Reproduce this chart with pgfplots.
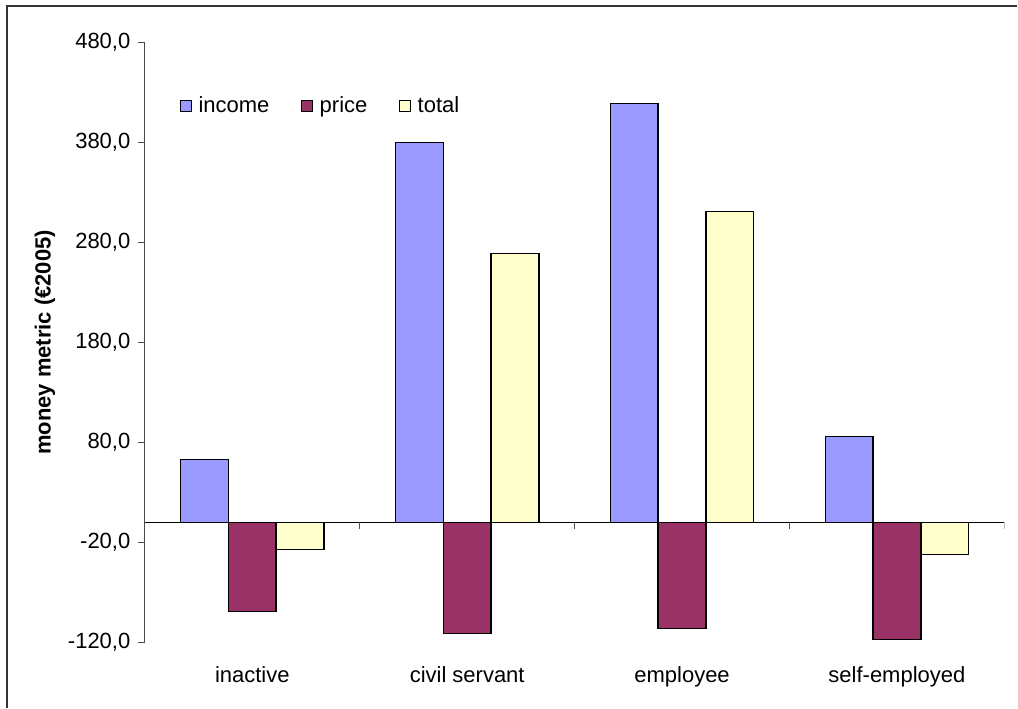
\documentclass[border=0pt]{standalone}
\usepackage{pgfplots}
\pgfplotsset{compat=1.18}
\usepackage{fontspec}
\setmainfont{Liberation Sans}
\definecolor{cinc}{RGB}{153,153,255}
\definecolor{cpri}{RGB}{153,51,102}
\definecolor{ctot}{RGB}{255,255,204}
\begin{document}
\begin{tikzpicture}
\fontsize{16.5bp}{19bp}\selectfont
\path (0,0) rectangle (763.5bp,531bp);
\draw[line width=1bp, black!80] (5.25bp,0) -- (5.25bp,526.5bp) -- (763.5bp,526.5bp);
\begin{axis}[
  at={(108.75bp,49bp)}, anchor=south west,
  scale only axis, width=645bp, height=450bp,
  xmin=-0.5, xmax=3.5, ymin=-120, ymax=480,
  axis y line*=left, axis x line*=bottom,
  x axis line style={draw=none},
  y axis line style={black!70, line width=0.8bp},
  xtick={0,1,2,3},
  xticklabels={inactive,civil servant,employee,self-employed},
  x tick style={draw=none},
  xticklabel style={yshift=-7.5bp},
  ytick={-120,-20,...,480},
  yticklabel={\pgfmathprintnumber[fixed,fixed zerofill,precision=1,use comma]{\tick}},
  /pgf/number format/assume math mode=true,
  tick label style={font=\fontsize{16.5bp}{19bp}\selectfont},
  y tick style={black!70, line width=0.8bp},
  tick align=outside, major tick length=5.25bp,
  ylabel={money metric (€2005)},
  ylabel style={at={(axis description cs:-0.1163,0.5)}, anchor=center, font=\fontsize{16.5bp}{19bp}\selectfont\bfseries},
  legend columns=3,
  legend style={at={(axis description cs:0.0407,0.8945)}, anchor=west, draw=none, fill=none, inner sep=0pt,
    font=\fontsize{16.5bp}{19bp}\selectfont,
    /tikz/every odd column/.append style={column sep=3bp},
    /tikz/every even column/.append style={column sep=22bp}},
  legend image code/.code={\draw[#1, line width=0.8bp] (0bp,-4bp) rectangle (8bp,4bp);},
]
\addplot[ybar, bar width=0.2222, bar shift=-0.2222, fill=cinc, draw=black, line width=1.1bp]
  coordinates {(0,63) (1,380) (2,419) (3,86)};
\addlegendentry{income}
\addplot[ybar, bar width=0.2222, bar shift=0, fill=cpri, draw=black, line width=1.1bp]
  coordinates {(0,-89) (1,-111) (2,-106) (3,-117)};
\addlegendentry{price}
\addplot[ybar, bar width=0.2222, bar shift=0.2222, fill=ctot, draw=black, line width=1.1bp]
  coordinates {(0,-27) (1,269) (2,311) (3,-32)};
\addlegendentry{total}
\draw[black, line width=0.9bp] (axis cs:-0.5,0) -- (axis cs:3.5,0);
\pgfplotsinvokeforeach{0.5,1.5,2.5,3.5}{\draw[black!70, line width=0.8bp] (axis cs:#1,0) -- ([yshift=-5.25bp]axis cs:#1,0);}
\end{axis}
\end{tikzpicture}
\end{document}
